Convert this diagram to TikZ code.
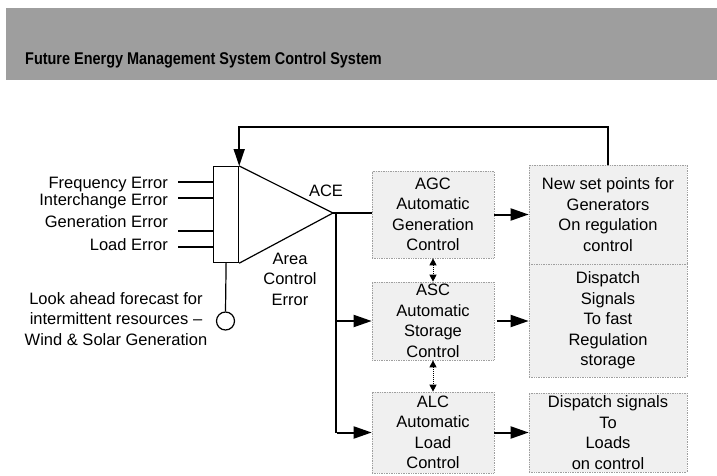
\documentclass[tikz,border=0pt]{standalone}
\usepackage{fontspec}
\setmainfont{Liberation Sans}
\usepackage{graphicx}
\usetikzlibrary{arrows.meta}
\begin{document}
\begin{tikzpicture}[x=1pt,y=-1pt,
  txt/.style={font=\fontsize{16.5}{20.5}\selectfont, align=center, inner sep=0pt},
  blk/.style={draw=gray!75, densely dotted, fill=black!6, line width=0.7pt, inner sep=0pt},
  thinline/.style={line width=1.2pt},
  arr/.style={line width=2pt, -{Triangle[length=18pt,width=12pt]}},
  fbarr/.style={line width=1.6pt, -{Triangle[length=17pt,width=11pt]}},
  dar/.style={densely dotted, line width=1pt, {Triangle[length=7pt,width=7pt]}-{Triangle[length=7pt,width=7pt]}}]
\useasboundingbox (0,0) rectangle (717,476);
\fill[white] (0,0) rectangle (717,476);
% title band
\node[fill=black!38, minimum width=711pt, minimum height=72pt, anchor=north west, inner sep=0pt] (band) at (6,8) {};
\node[anchor=base west, inner sep=0pt, font=\fontsize{17}{20}\selectfont\bfseries] (title) at (25,65) {\scalebox{0.85}[1]{Future Energy Management System Control System}};
% summing bar and triangle
\node[draw, thinline, fill=white, minimum width=25pt, minimum height=96pt, inner sep=0pt, anchor=north west] (bar) at (213,166) {};
\coordinate (tl) at (bar.north east);
\coordinate (bl) at (bar.south east);
\coordinate (apex) at (333,213);
\draw[thinline] (tl) -- (apex) -- (bl);
% input labels
\node[txt, anchor=base east] (fe) at (168,188) {Frequency Error};
\node[txt, anchor=base east] (ie) at (168,205) {Interchange Error};
\node[txt, anchor=base east] (ge) at (168,227) {Generation Error};
\node[txt, anchor=base east] (le) at (168,250) {Load Error};
\coordinate (fe0) at (178,182);
\coordinate (ie0) at (178,198);
\coordinate (ge0) at (178,231);
\coordinate (le0) at (178,247);
\draw[thinline] (fe0) -- (fe0 -| bar.west);
\draw[thinline] (ie0) -- (ie0 -| bar.west);
\draw[thinline] (ge0) -- (ge0 -| bar.west);
\draw[thinline] (le0) -- (le0 -| bar.west);
% look-ahead forecast input
\node[draw, circle, thinline, minimum size=18pt, inner sep=0pt] (circ) at (225.5,321) {};
\draw[thinline] (bar.south) -- (circ.north);
\node[txt] (la) at (116,319) {Look ahead forecast for\\intermittent resources --\\Wind \& Solar Generation};
% ACE labels
\node[txt] (ace) at (326,191) {ACE};
\node[txt] (acelab) at (290,279) {Area\\Control\\Error};
% control blocks
\node[blk, txt, minimum width=122pt, minimum height=87pt] (agc) at (433,214.5) {AGC\\Automatic\\Generation\\Control};
\node[blk, txt, minimum width=122pt, minimum height=78pt] (asc) at (433,321) {ASC\\Automatic\\Storage\\Control};
\node[blk, txt, minimum width=122pt, minimum height=81pt] (alc) at (433,432.5) {ALC\\Automatic\\Load\\Control};
% output blocks
\node[blk, txt, minimum width=158pt, minimum height=99pt] (r1) at (608,214.5) {New set points for\\Generators\\On regulation\\control};
\node[blk, txt, minimum width=158pt, minimum height=113pt] (r2) at (608,320.5) {Dispatch\\Signals\\To fast\\Regulation\\storage};
\node[blk, txt, minimum width=158pt, minimum height=79pt] (r3) at (608,432.5) {Dispatch signals\\To\\Loads\\on control};
% ACE distribution
\coordinate (bus) at (335.5,213);
\draw[thinline] (apex) -- (apex -| agc.west);
\draw[line width=2pt] (bus) -- (bus |- alc.west);
\draw[arr] (bus |- asc.west) -- (asc.west);
\draw[arr] ([xshift=1pt]bus |- alc.west) -- (alc.west);
% block to output arrows
\draw[arr] (agc.east) -- (r1.west |- agc.east);
\draw[arr] ([xshift=3pt]asc.east) -- (r2.west |- asc.east);
\draw[arr] (alc.east) -- (r3.west |- alc.east);
% coordination arrows
\draw[dar] (agc.south) -- (asc.north);
\draw[dar] (asc.south) -- (alc.north);
% feedback
\coordinate (fbtop) at (608,127);
\draw[fbarr] (r1.north) -- (fbtop) -- (fbtop -| bar.north east) -- (bar.north east);
\end{tikzpicture}
\end{document}
